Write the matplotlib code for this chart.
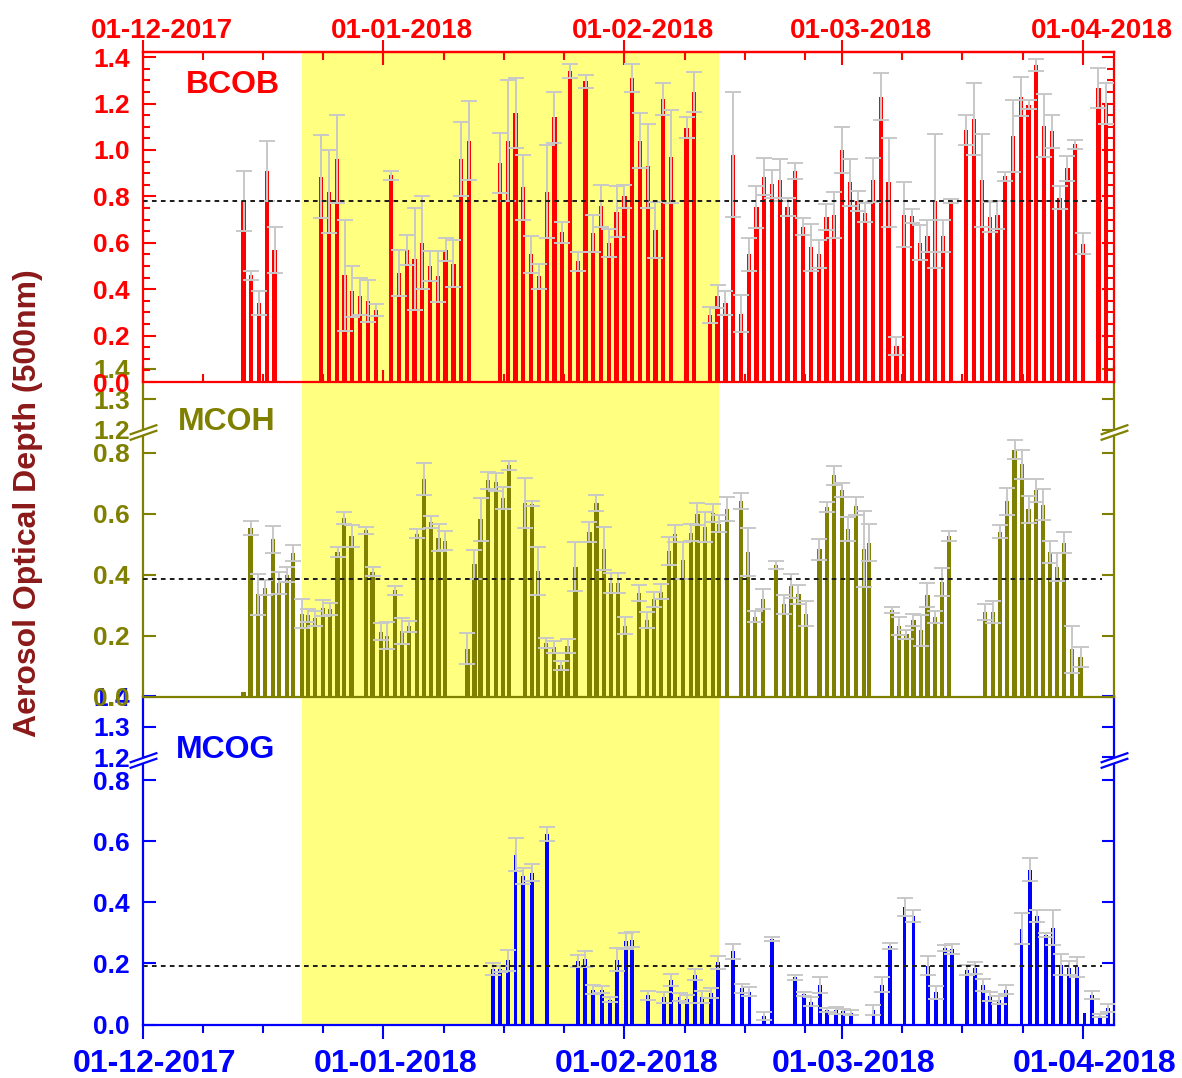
import numpy as np
import matplotlib
matplotlib.use("Agg")
import matplotlib.pyplot as plt
import matplotlib.transforms as mtransforms
from matplotlib.path import Path
from matplotlib.ticker import FixedLocator, MultipleLocator, FormatStrFormatter, NullFormatter
from datetime import date

plt.rcParams['font.family'] = ['Liberation Sans', 'DejaVu Sans']
plt.rcParams['font.weight'] = 'bold'

# Dates: day offsets counted from 01-12-2017
start_date = date(2017, 12, 1)
end_date = date(2018, 4, 5)
month_starts = [date(2017, 12, 1), date(2018, 1, 1), date(2018, 2, 1),
                date(2018, 3, 1), date(2018, 4, 1)]
month_labels = [m.strftime("%d-%m-%Y") for m in month_starts]

# shaded (yellow) period, in days
shade_start = 20.5
shade_end = 74.2

# BCOB
bcob_day = [13, 14, 15, 16, 17,
            23, 24, 25, 26, 27, 28, 29, 30,
            32, 33, 34, 35, 36, 37, 38, 39, 40, 41, 42,
            46, 47, 48, 49, 50, 51, 52, 53, 54, 55, 56, 57, 58, 59, 60, 61, 62, 63, 64, 65, 66, 67, 68,
            70, 71,
            73, 74, 75, 76, 77, 78, 79, 80, 81, 82, 83, 84, 85, 86, 87, 88, 89, 90, 91, 92, 93, 94,
            95, 96, 97, 98, 99, 100, 101, 102, 103, 104,
            106, 107, 108, 109, 110, 111, 112, 113, 114, 115, 116, 117, 118, 119, 120, 121,
            123, 124]
bcob_aod = [0.78, 0.46, 0.34, 0.91, 0.57,
            0.885, 0.82, 0.96, 0.46, 0.39, 0.37, 0.35, 0.31,
            0.89, 0.47, 0.57, 0.53, 0.60, 0.50, 0.455, 0.57, 0.51, 0.96, 1.04,
            0.945, 1.04, 1.16, 0.84, 0.55, 0.455, 0.82, 1.14, 0.645, 1.34, 0.52, 1.295, 0.64, 0.76,
            0.60, 0.734, 0.80, 1.31, 1.04, 0.93, 0.655, 1.22, 0.97,
            1.095, 1.25,
            0.29, 0.37, 0.34, 0.98, 0.295, 0.55, 0.755, 0.885, 0.855, 0.87, 0.755, 0.91, 0.67, 0.58,
            0.55, 0.71, 0.72, 1.00, 0.86, 0.78, 0.73, 0.87, 1.23, 0.86, 0.155, 0.72, 0.714, 0.60,
            0.63, 0.78, 0.63, 0.78,
            1.085, 1.135, 0.87, 0.71, 0.72, 0.887, 1.06, 1.23, 1.195, 1.365, 1.105, 1.08, 0.795,
            0.92, 1.024, 0.595,
            1.267, 1.20]
bcob_err = [0.13, 0.02, 0.05, 0.13, 0.10,
            0.18, 0.18, 0.19, 0.24, 0.11, 0.08, 0.09, 0.025,
            0.02, 0.10, 0.065, 0.22, 0.20, 0.065, 0.11, 0.05, 0.10, 0.16, 0.17,
            0.13, 0.26, 0.15, 0.14, 0.08, 0.055, 0.20, 0.11, 0.045, 0.03, 0.04, 0.03, 0.08, 0.09,
            0.06, 0.11, 0.05, 0.06, 0.12, 0.18, 0.12, 0.07, 0.20,
            0.045, 0.085,
            0.035, 0.05, 0.05, 0.27, 0.08, 0.07, 0.09, 0.08, 0.06, 0.09, 0.04, 0.035, 0.035, 0.10,
            0.06, 0.055, 0.10, 0.10, 0.10, 0.045, 0.04, 0.095, 0.10, 0.19, 0.04, 0.14, 0.03, 0.075,
            0.07, 0.29, 0.07, 0.01,
            0.065, 0.155, 0.20, 0.065, 0.06, 0.02, 0.155, 0.085, 0.02, 0.025, 0.135, 0.07, 0.05,
            0.055, 0.02, 0.045,
            0.085, 0.09]
bcob_mean = 0.778

# MCOH
mcoh_day = [13.0, 13.9, 14.9, 15.8, 16.75, 17.6, 18.55, 19.4, 20.5, 21.3, 22.2, 23.2, 24.1, 25.1, 25.9, 26.9,
            28.8, 29.6, 30.7, 31.5, 32.5, 33.4, 34.3, 35.3, 36.2, 37.1, 38.1, 38.9,
            41.8, 42.7, 43.5, 44.5, 45.5, 46.4, 47.2,
            49.2, 50.1, 50.9, 51.9, 52.9, 53.8, 54.7, 55.7,
            57.5, 58.4, 59.4, 60.3, 61.2, 62.1,
            63.9, 64.9, 65.8, 66.7, 67.7, 68.5, 69.5, 70.6, 71.4, 72.4, 73.4, 74.2, 75.2,
            77.0, 77.9, 78.8, 79.8,
            81.5, 82.5, 83.4, 84.4, 85.4,
            87.1, 88.1, 89.0, 90.0, 90.8, 91.8, 92.8, 93.5,
            96.4, 97.3, 98.3, 99.2, 100.2, 101.0, 102.0, 102.9, 103.8,
            108.4, 109.4, 110.3, 111.2, 112.2, 113.2, 114.0, 115.0, 115.9, 116.8, 117.7, 118.6, 119.6, 120.7]
mcoh_aod = [0.017, 0.552, 0.336, 0.358, 0.516, 0.374, 0.40, 0.472, 0.273, 0.267, 0.257, 0.292, 0.289, 0.474, 0.587, 0.527,
            0.545, 0.41, 0.214, 0.20, 0.349, 0.216, 0.232, 0.534, 0.714, 0.574, 0.521, 0.512,
            0.158, 0.434, 0.581, 0.709, 0.704, 0.65, 0.758,
            0.636, 0.632, 0.412, 0.178, 0.164, 0.104, 0.166, 0.426,
            0.54, 0.636, 0.486, 0.374, 0.374, 0.234,
            0.341, 0.251, 0.32, 0.345, 0.478, 0.534, 0.447, 0.538, 0.598, 0.556, 0.603, 0.567, 0.616,
            0.641, 0.475, 0.263, 0.32,
            0.432, 0.303, 0.363, 0.336, 0.273,
            0.483, 0.622, 0.725, 0.679, 0.549, 0.625, 0.485, 0.505,
            0.284, 0.232, 0.205, 0.251, 0.218, 0.334, 0.262, 0.377, 0.527,
            0.278, 0.278, 0.541, 0.641, 0.81, 0.761, 0.614, 0.676, 0.63, 0.475, 0.425, 0.505, 0.156, 0.132]
mcoh_err = [0.0, 0.023, 0.067, 0.025, 0.045, 0.036, 0.024, 0.027, 0.047, 0.022, 0.025, 0.027, 0.02, 0.017, 0.02, 0.035,
            0.013, 0.015, 0.029, 0.044, 0.015, 0.044, 0.018, 0.015, 0.052, 0.02, 0.044, 0.03,
            0.05, 0.047, 0.07, 0.029, 0.03, 0.036, 0.015,
            0.082, 0.008, 0.079, 0.016, 0.02, 0.014, 0.023, 0.08,
            0.034, 0.026, 0.07, 0.033, 0.033, 0.027,
            0.027, 0.026, 0.025, 0.025, 0.047, 0.028, 0.06, 0.027, 0.036, 0.05, 0.03, 0.028, 0.039,
            0.027, 0.079, 0.019, 0.033,
            0.014, 0.03, 0.04, 0.03, 0.042,
            0.033, 0.016, 0.03, 0.023, 0.04, 0.03, 0.124, 0.06,
            0.01, 0.03, 0.015, 0.02, 0.05, 0.04, 0.02, 0.045, 0.017,
            0.026, 0.035, 0.022, 0.044, 0.03, 0.046, 0.044, 0.037, 0.05, 0.035, 0.045, 0.034, 0.077, 0.033]
mcoh_mean = 0.385

# MCOG
mcog_day = [45.1, 46.0, 47.0, 48.0, 49.0, 50.1, 52.0,
            56.0, 56.9, 58.0, 59.1, 60.1, 61.1, 62.2, 63.0, 65.0,
            67.05, 68.0, 69.1, 70.1, 71.05, 72.0, 73.1, 74.1, 76.0, 77.1, 78.1,
            80.0, 81.0, 84.0, 85.1, 86.05, 87.2, 88.05, 89.2, 90.1, 91.2,
            94.05, 95.2, 96.15, 98.05, 99.2, 101.1, 102.1, 103.2, 104.2,
            106.1, 107.1, 108.2, 109.1, 110.2, 111.1,
            113.1, 114.2, 115.1, 116.2, 117.2, 118.2, 119.2, 120.2, 121.2, 122.2, 123.2, 124.2]
mcog_aod = [0.181, 0.181, 0.21, 0.556, 0.486, 0.497, 0.625,
            0.207, 0.214, 0.114, 0.114, 0.081, 0.212, 0.274, 0.278, 0.095,
            0.09, 0.146, 0.09, 0.083, 0.163, 0.09, 0.103, 0.203, 0.239, 0.119, 0.108,
            0.028, 0.28, 0.155, 0.10, 0.075, 0.13, 0.048, 0.046, 0.043, 0.039,
            0.048, 0.13, 0.256, 0.385, 0.356, 0.192, 0.105, 0.25, 0.247,
            0.179, 0.185, 0.13, 0.092, 0.081, 0.114,
            0.314, 0.507, 0.355, 0.292, 0.317, 0.196, 0.185, 0.188, 0.039, 0.097, 0.028, 0.054]
mcog_err = [0.02, 0.01, 0.035, 0.054, 0.025, 0.027, 0.023,
            0.02, 0.026, 0.015, 0.012, 0.008, 0.038, 0.026, 0.025, 0.015,
            0.018, 0.02, 0.012, 0.012, 0.018, 0.02, 0.016, 0.022, 0.025, 0.015, 0.015,
            0.013, 0.007, 0.008, 0.008, 0.015, 0.027, 0.007, 0.01, 0.008, 0.008,
            0.017, 0.024, 0.01, 0.03, 0.02, 0.031, 0.02, 0.01, 0.016,
            0.016, 0.02, 0.02, 0.014, 0.013, 0.015,
            0.05, 0.038, 0.02, 0.007, 0.058, 0.034, 0.022, 0.033, 0.0, 0.013, 0.005, 0.013]
mcog_mean = 0.19

RED = '#FF0000'
OLIVE = '#808000'
BLUE = '#0000FF'
SHADE = '#FFFF80'
ERR = '#C8C8C8'

W, H = 1182, 1078
fig = plt.figure(figsize=(W / 100, H / 100), dpi=100)
fig.patch.set_facecolor('white')


def add_axes_px(left, top, right, bottom):
    return fig.add_axes([left / W, 1 - bottom / H, (right - left) / W, (bottom - top) / H])


n_days = (end_date - start_date).days
major_days = [(m - start_date).days for m in month_starts]
minor_days = [p + k * 7.75 for p in major_days for k in (1, 2, 3) if p + k * 7.75 < n_days]

# broken y axis (0 - 0.85 | 1.2 - 1.4)
LOW, HIGH, GAP = 0.85, 1.2, 0.024


def fwd(y):
    y = np.asarray(y, dtype=float)
    return np.where(y <= LOW, y,
                    np.where(y >= HIGH, y - HIGH + LOW + GAP, LOW + (y - LOW) * GAP / (HIGH - LOW)))


def inv(t):
    t = np.asarray(t, dtype=float)
    return np.where(t <= LOW, t,
                    np.where(t >= LOW + GAP, t - LOW - GAP + HIGH, LOW + (t - LOW) * (HIGH - LOW) / GAP))


def draw_panel(ax, days, aod, err, mean, color, width):
    days = np.asarray(days)
    aod = np.asarray(aod)
    err = np.asarray(err)
    ax.set_facecolor('none')
    ax.axvspan(shade_start, shade_end, color=SHADE, lw=0, zorder=0)
    ax.bar(days, aod, width=width, color=color, lw=0, zorder=2)
    has = err > 0
    ax.errorbar(days[has], aod[has], yerr=err[has], fmt='none', ecolor=ERR,
                elinewidth=1.4, capsize=6, capthick=1.4, zorder=3)
    ax.hlines(mean, 0, 123.5, colors='#1a1a1a', linestyles=(0, (2.4, 2.2)), lw=1.4, zorder=4)
    ax.set_xlim(0, n_days)
    for s in ax.spines.values():
        s.set_color(color)
        s.set_linewidth(1.6)
    ax.tick_params(axis='y', which='both', direction='in', left=True, right=True,
                   color=color, labelcolor=color, labelsize=19, width=1.5, pad=9)
    ax.tick_params(axis='y', which='major', length=9)
    ax.tick_params(axis='y', which='minor', length=5)
    ax.yaxis.set_major_formatter(FormatStrFormatter('%.1f'))


def break_axis(ax, color, ybreak=1.08):
    trans = mtransforms.blended_transform_factory(ax.transAxes, ax.transData)
    fill = Path([(-1, -0.55), (1, 0.15), (1, 0.55), (-1, -0.15), (-1, -0.55)],
                [Path.MOVETO, Path.LINETO, Path.LINETO, Path.LINETO, Path.CLOSEPOLY])
    lines = Path([(-1, -0.55), (1, 0.15), (-1, -0.15), (1, 0.55)],
                 [Path.MOVETO, Path.LINETO, Path.MOVETO, Path.LINETO])
    ax.plot([0, 1], [ybreak, ybreak], transform=trans, ls='none', marker=fill, ms=20,
            mfc='white', mec='white', mew=0.5, clip_on=False, zorder=6)
    ax.plot([0, 1], [ybreak, ybreak], transform=trans, ls='none', marker=lines, ms=20,
            mfc='none', mec=color, mew=1.6, clip_on=False, zorder=7)


def broken_scale(ax, top):
    ax.set_yscale('function', functions=(fwd, inv))
    ax.set_ylim(0, top)
    ax.yaxis.set_major_locator(FixedLocator([0, 0.2, 0.4, 0.6, 0.8, 1.2, 1.3, 1.4]))
    ax.spines['top'].set_visible(False)


# axes, bottom first so the top panel is drawn last
ax_bot = add_axes_px(142.5, 696.4, 1114, 1024.5)
ax_mid = add_axes_px(142.5, 367, 1114, 697)
ax_top = add_axes_px(142.5, 52, 1114, 382)

# bottom panel: MCOG
draw_panel(ax_bot, mcog_day, mcog_aod, mcog_err, mcog_mean, BLUE, 0.5)
broken_scale(ax_bot, 1.4)
break_axis(ax_bot, BLUE)
ax_bot.xaxis.set_major_locator(FixedLocator(major_days))
ax_bot.xaxis.set_minor_locator(FixedLocator(minor_days))
ax_bot.xaxis.set_major_formatter(NullFormatter())
ax_bot.tick_params(axis='x', which='both', direction='out', color=BLUE, width=1.5, top=False)
ax_bot.tick_params(axis='x', which='major', length=10)
ax_bot.tick_params(axis='x', which='minor', length=6)
bot_trans = mtransforms.blended_transform_factory(ax_bot.transData, ax_bot.transAxes) + \
    mtransforms.ScaledTranslation(12 / 100, -48 / 100, fig.dpi_scale_trans)
for p, lab in zip(major_days, month_labels):
    ax_bot.text(p, 0, lab, transform=bot_trans, ha='center', va='baseline',
                color=BLUE, fontsize=23, fontweight='bold', clip_on=False)

# middle panel: MCOH
draw_panel(ax_mid, mcoh_day, mcoh_aod, mcoh_err, mcoh_mean, OLIVE, 0.55)
broken_scale(ax_mid, float(inv(1.08)))
break_axis(ax_mid, OLIVE)
ax_mid.tick_params(axis='x', which='both', bottom=False, top=False, labelbottom=False)

# top panel: BCOB
draw_panel(ax_top, bcob_day, bcob_aod, bcob_err, bcob_mean, RED, 0.55)
ax_top.set_ylim(0, 1.422)
ax_top.yaxis.set_major_locator(MultipleLocator(0.2))
ax_top.yaxis.set_minor_locator(MultipleLocator(0.05))
ax_top.xaxis.set_major_locator(FixedLocator(major_days))
ax_top.xaxis.set_minor_locator(FixedLocator(minor_days))
ax_top.tick_params(axis='x', which='both', direction='in', color=RED, width=1.5,
                   top=False, labelbottom=False)
ax_top.tick_params(axis='x', which='major', length=9)
ax_top.tick_params(axis='x', which='minor', length=6)
sec = ax_top.secondary_xaxis('top')
sec.xaxis.set_major_locator(FixedLocator(major_days))
sec.xaxis.set_minor_locator(FixedLocator(minor_days))
sec.xaxis.set_major_formatter(NullFormatter())
sec.spines['top'].set_color(RED)
sec.spines['top'].set_linewidth(1.6)
sec.tick_params(axis='x', which='major', direction='inout', length=18, width=1.5, color=RED)
sec.tick_params(axis='x', which='minor', direction='in', length=6, width=1.5, color=RED)
top_trans = mtransforms.blended_transform_factory(ax_top.transData, ax_top.transAxes) + \
    mtransforms.ScaledTranslation(19 / 100, 14 / 100, fig.dpi_scale_trans)
for p, lab in zip(major_days, month_labels):
    ax_top.text(p, 1, lab, transform=top_trans, ha='center', va='baseline',
                color=RED, fontsize=20, fontweight='bold', clip_on=False)

# panel names
fig.text(186 / W, 1 - 93 / H, 'BCOB', color=RED, fontsize=23, fontweight='bold', va='baseline')
fig.text(178 / W, 1 - 430 / H, 'MCOH', color=OLIVE, fontsize=23, fontweight='bold', va='baseline')
fig.text(176 / W, 1 - 758 / H, 'MCOG', color=BLUE, fontsize=23, fontweight='bold', va='baseline')

fig.text(28 / W, 1 - 503 / H, 'Aerosol Optical Depth (500nm)', rotation=90, ha='center',
         va='center', color='#8B1A1A', fontsize=23, fontweight='bold')

fig.savefig('out.png', dpi=100)
